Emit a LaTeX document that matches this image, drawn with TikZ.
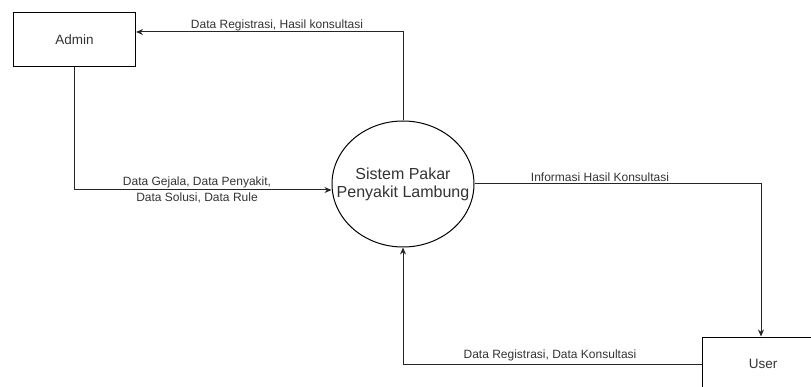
\documentclass[tikz,border=0pt]{standalone}
\usepackage{fontspec}
\setmainfont{Liberation Sans}
\usepackage{xcolor}
\usetikzlibrary{shapes.geometric, arrows.meta, positioning, calc}

\begin{document}
\begin{tikzpicture}[
        x=1pt, y=-1pt,
        entity/.style={rectangle, minimum width=122pt, minimum height=54pt, text centered, draw=black, line width=1pt, text=black!80, font=\fontsize{13.5}{16}\selectfont},
        process/.style={ellipse, minimum width=142pt, minimum height=126pt, inner xsep=-16.5pt, inner ysep=0pt, align=center, draw=black, line width=1pt, text=black!80, font=\fontsize{16}{18}\selectfont},
        flowlabel/.style={inner sep=0pt, align=center, text=black!80, font=\fontsize{12}{16}\selectfont},
        arrow/.style={line width=1pt, black!85, -{Stealth[length=7pt, width=6pt]}}
    ]
    \useasboundingbox (0,0) rectangle (811,387);

    \node (admin) [entity] at (74.5,40) {Admin};
    \node (sistem) [process] at (403,184) {Sistem Pakar\\Penyakit Lambung};
    \node (user) [entity] at (763,364) {User};

    \draw [arrow] (sistem.north) |- ([yshift=8pt]admin.east);
    \draw [arrow] (admin.south) |- ([yshift=-6pt]sistem.west);
    \draw [arrow] (sistem.east) -| ([xshift=-2pt]user.north);
    \draw [arrow] (user.west) -| (sistem.south);

    \node (regadmin) [flowlabel] at (277,25) {Data Registrasi, Hasil konsultasi};
    \node (masterdata) [flowlabel] at (197,190) {Data Gejala, Data Penyakit,\\Data Solusi, Data Rule};
    \node (infokonsul) [flowlabel] at (600,177) {Informasi Hasil Konsultasi};
    \node (reguser) [flowlabel] at (550,355) {Data Registrasi, Data Konsultasi};

\end{tikzpicture}
\end{document}
